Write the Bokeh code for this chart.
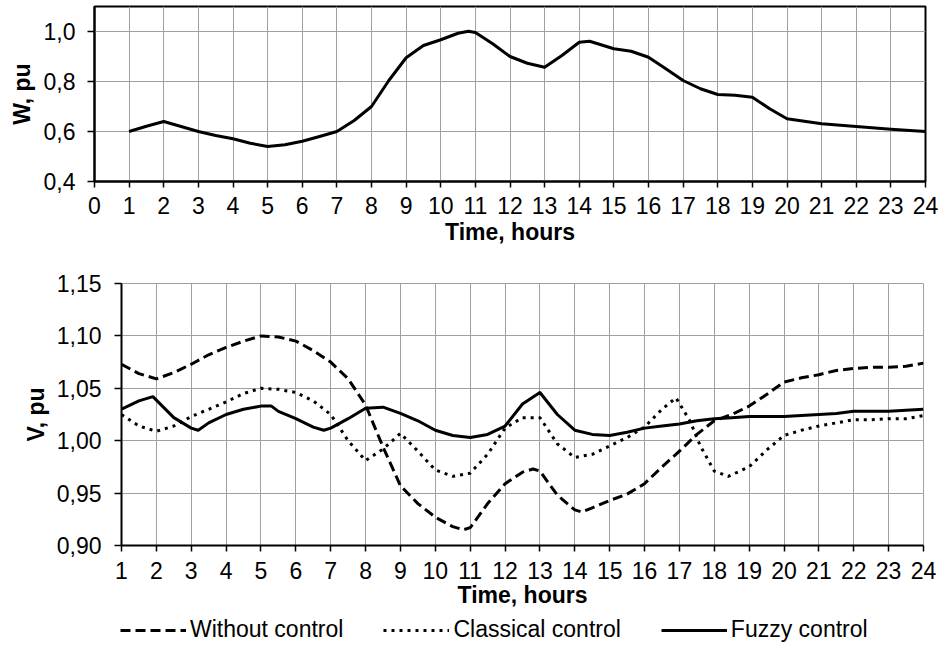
from bokeh.plotting import figure
from bokeh.models import FixedTicker, Legend, LegendItem, Range1d
from bokeh.embed import file_html
from bokeh.resources import INLINE

FONT = "Liberation Sans"
TICK_SIZE = "23px"
LABEL_SIZE = "23px"
GRID = "#a0a0a0"

# ---------------- data ----------------
W_HOURS = [1, 1.5, 2, 2.5, 3, 3.5, 4, 4.5, 5, 5.5, 6, 6.5, 7, 7.5, 8, 8.5, 9, 9.5,
           10, 10.5, 10.8, 11, 11.5, 12, 12.5, 13, 13.5, 14, 14.3, 15, 15.5, 16,
           16.5, 17, 17.5, 18, 18.5, 19, 19.5, 20, 21, 22, 23, 24]
W_VALUES = [0.600, 0.621, 0.640, 0.620, 0.600, 0.584, 0.571, 0.553, 0.540, 0.547,
            0.561, 0.580, 0.600, 0.644, 0.700, 0.804, 0.895, 0.944, 0.967, 0.993,
            1.001, 0.996, 0.951, 0.900, 0.873, 0.857, 0.904, 0.957, 0.961, 0.931,
            0.921, 0.897, 0.851, 0.804, 0.771, 0.748, 0.745, 0.737, 0.691, 0.651,
            0.631, 0.620, 0.609, 0.600]

WC_HOURS = [1, 1.5, 2, 2.5, 3, 3.5, 4, 4.5, 5, 5.5, 6, 6.5, 7, 7.5, 8, 8.5, 9, 9.5,
            10, 10.5, 10.8, 11, 11.5, 12, 12.5, 12.8, 13, 13.5, 14, 14.2, 14.5, 15,
            15.5, 16, 16.5, 17, 17.5, 18, 18.5, 19, 19.5, 20, 20.5, 21, 21.5, 22,
            22.5, 23, 23.5, 24]
WC_VALUES = [1.073, 1.064, 1.059, 1.065, 1.073, 1.082, 1.089, 1.095, 1.100, 1.099,
             1.095, 1.086, 1.075, 1.059, 1.034, 0.994, 0.957, 0.940, 0.927, 0.918,
             0.915, 0.917, 0.940, 0.959, 0.970, 0.973, 0.971, 0.948, 0.934, 0.932,
             0.936, 0.943, 0.949, 0.959, 0.975, 0.990, 1.006, 1.019, 1.025, 1.033,
             1.044, 1.056, 1.060, 1.063, 1.067, 1.069, 1.070, 1.070, 1.071, 1.074]

CC_HOURS = [1, 1.5, 2, 2.5, 3, 3.5, 4, 4.5, 5, 5.5, 6, 6.5, 7, 7.5, 8, 8.5, 9, 9.5,
            10, 10.5, 11, 11.5, 12, 12.5, 13, 13.5, 14, 14.5, 15, 15.5, 16, 16.5,
            16.9, 17.3, 17.6, 18, 18.4, 19, 19.5, 20, 20.5, 21, 21.5, 22, 22.5, 23,
            23.5, 24]
CC_VALUES = [1.025, 1.014, 1.009, 1.014, 1.023, 1.030, 1.037, 1.045, 1.050, 1.049,
             1.046, 1.038, 1.025, 1.000, 0.981, 0.992, 1.007, 0.990, 0.972, 0.966,
             0.969, 0.987, 1.012, 1.022, 1.022, 0.997, 0.984, 0.987, 0.995, 1.003,
             1.013, 1.030, 1.041, 1.019, 0.995, 0.971, 0.966, 0.975, 0.991, 1.005,
             1.010, 1.014, 1.017, 1.020, 1.020, 1.021, 1.021, 1.024]

FC_HOURS = [1, 1.5, 1.9, 2.5, 3, 3.2, 3.5, 4, 4.5, 5, 5.3, 5.5, 6, 6.5, 6.8, 7, 7.5,
            8, 8.5, 9, 9.5, 10, 10.5, 11, 11.5, 12, 12.5, 13, 13.5, 14, 14.5, 15,
            15.5, 16, 16.5, 17, 17.5, 18, 18.5, 19, 19.5, 20, 20.5, 21, 21.5, 22,
            22.5, 23, 23.5, 24]
FC_VALUES = [1.030, 1.038, 1.042, 1.022, 1.012, 1.010, 1.017, 1.025, 1.030, 1.033,
             1.033, 1.028, 1.021, 1.013, 1.010, 1.012, 1.021, 1.031, 1.032, 1.026,
             1.019, 1.010, 1.005, 1.003, 1.006, 1.014, 1.035, 1.046, 1.025, 1.010,
             1.006, 1.005, 1.008, 1.012, 1.014, 1.016, 1.019, 1.021, 1.022, 1.023,
             1.023, 1.023, 1.024, 1.025, 1.026, 1.028, 1.028, 1.028, 1.029, 1.030]

W_TICKS = [0.4, 0.6, 0.8, 1.0]
W_TICK_LABELS = ["0,4", "0,6", "0,8", "1,0"]
V_TICKS = [0.90, 0.95, 1.00, 1.05, 1.10, 1.15]
V_TICK_LABELS = ["0,90", "0,95", "1,00", "1,05", "1,10", "1,15"]
TOP_HOURS = list(range(0, 25))
BOTTOM_HOURS = list(range(1, 25))
X_TITLE = "Time, hours"
W_TITLE = "W, pu"
V_TITLE = "V, pu"
SERIES_NAMES = ["Without control", "Classical control", "Fuzzy control"]

WC_STYLE = dict(line_color="black", line_width=3, line_dash="10 5", line_join="round")
CC_STYLE = dict(line_color="black", line_width=3, line_dash="3 5", line_join="round")
FC_STYLE = dict(line_color="black", line_width=3, line_join="round")


def style_axes(p, yticks, ylabels, xticks):
    p.xaxis.ticker = FixedTicker(ticks=xticks)
    p.yaxis.ticker = FixedTicker(ticks=yticks)
    p.yaxis.major_label_overrides = {t: l for t, l in zip(yticks, ylabels)}
    for ax in (p.xaxis[0], p.yaxis[0]):
        ax.axis_line_color = "black"
        ax.axis_line_width = 2
        ax.major_tick_line_color = "black"
        ax.major_tick_line_width = 1.5
        ax.major_tick_in = 0
        ax.major_tick_out = 6
        ax.minor_tick_line_color = None
        ax.major_label_text_font = FONT
        ax.major_label_text_font_size = TICK_SIZE
        ax.major_label_text_color = "black"
        ax.axis_label_text_font = FONT
        ax.axis_label_text_font_size = LABEL_SIZE
        ax.axis_label_text_font_style = "bold"
        ax.axis_label_text_color = "black"
    p.xaxis.major_label_standoff = 9
    p.xaxis.axis_label_standoff = 2
    p.yaxis.major_label_standoff = 12
    p.yaxis.axis_label_standoff = 6
    p.yaxis.major_tick_out = 7
    p.xgrid.grid_line_color = GRID
    p.ygrid.grid_line_color = GRID
    p.xgrid.grid_line_width = 1
    p.ygrid.grid_line_width = 1


# ---------------- top chart ----------------
p1 = figure(width=940, height=250, output_backend="svg", toolbar_location=None,
            x_range=Range1d(0, 24), y_range=Range1d(0.4, 1.1),
            min_border_left=94, min_border_right=15, min_border_top=6,
            min_border_bottom=69)
style_axes(p1, W_TICKS, W_TICK_LABELS, TOP_HOURS)
p1.xaxis.axis_label = X_TITLE
p1.yaxis.axis_label = W_TITLE
p1.outline_line_color = "black"
p1.outline_line_width = 2
p1.line(W_HOURS, W_VALUES, line_color="black", line_width=3, line_join="round")

# ---------------- bottom chart ----------------
p2 = figure(width=940, height=363, output_backend="svg", toolbar_location=None,
            x_range=Range1d(1, 24), y_range=Range1d(0.9, 1.15),
            min_border_left=121, min_border_right=17, min_border_top=33,
            min_border_bottom=68)
style_axes(p2, V_TICKS, V_TICK_LABELS, BOTTOM_HOURS)
p2.xaxis.axis_label = X_TITLE
p2.yaxis.axis_label = V_TITLE
p2.xaxis.axis_label_standoff = 0
p2.xaxis.major_label_standoff = 10
p2.yaxis.major_label_standoff = 13
p2.yaxis.axis_label_standoff = 5
p2.outline_line_color = GRID
p2.outline_line_width = 1

p2.line(WC_HOURS, WC_VALUES, **WC_STYLE)
p2.line(CC_HOURS, CC_VALUES, **CC_STYLE)
p2.line(FC_HOURS, FC_VALUES, **FC_STYLE)

# ---------------- legend strip (series kept outside its visible range) ----------------
p3 = figure(width=940, height=34, output_backend="svg", toolbar_location=None,
            x_range=Range1d(-10, -5), y_range=Range1d(-10, -5),
            x_axis_type=None, y_axis_type=None, min_border=0)
p3.outline_line_color = None
p3.xgrid.visible = False
p3.ygrid.visible = False
k_wc = p3.line(WC_HOURS, WC_VALUES, **WC_STYLE)
k_cc = p3.line(CC_HOURS, CC_VALUES, **CC_STYLE)
k_fc = p3.line(FC_HOURS, FC_VALUES, **FC_STYLE)
legend = Legend(items=[LegendItem(label=SERIES_NAMES[0], renderers=[k_wc]),
                       LegendItem(label=SERIES_NAMES[1], renderers=[k_cc]),
                       LegendItem(label=SERIES_NAMES[2], renderers=[k_fc])],
                orientation="horizontal", location=(120, 4),
                label_text_font=FONT, label_text_font_size=LABEL_SIZE,
                label_text_color="black", glyph_width=66, glyph_height=22,
                label_height=22, label_standoff=4, spacing=40, padding=0,
                margin=0, border_line_color=None, background_fill_alpha=0)
p3.add_layout(legend)

open("out.html", "w").write(file_html([p1, p2, p3], INLINE))
